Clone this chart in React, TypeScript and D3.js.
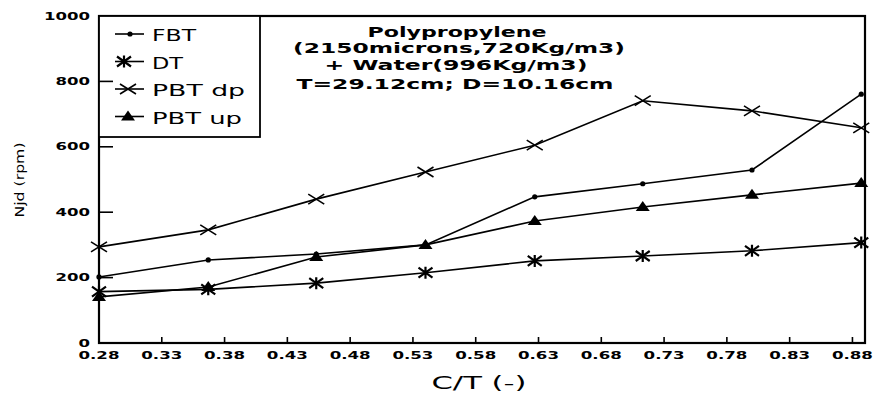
import React from "react";
import * as d3 from "d3";

const CT = [0.28, 0.367, 0.453, 0.54, 0.627, 0.713, 0.8, 0.887];
const FBT = [202, 254, 272, 300, 447, 487, 529, 761];
const DT = [157, 164, 183, 215, 251, 266, 282, 307];
const PBTdp = [294, 346, 440, 523, 605, 741, 710, 658];
const PBTup = [141, 171, 263, 300, 373, 416, 453, 489];
const xTicks = [0.28, 0.33, 0.38, 0.43, 0.48, 0.53, 0.58, 0.63, 0.68, 0.73, 0.78, 0.83, 0.88];
const yTicks = [0, 200, 400, 600, 800, 1000];
const legendNames = ["FBT", "DT", "PBT dp", "PBT up"];
const titleLines = ["Polypropylene", "(2150microns,720Kg/m3)", "+ Water(996Kg/m3)", "T=29.12cm;  D=10.16cm"];

const W = 874, H = 394;
const L = 99, R = 865, T = 16, B = 343;
const x = d3.scaleLinear().domain([0.28, 0.89]).range([L, R]);
const y = d3.scaleLinear().domain([0, 1000]).range([B, T]);
const line = d3.line<number>().x((_, i) => x(CT[i])).y((d) => y(d));

const FONT = "'DejaVu Sans', sans-serif";

type Kind = "dot" | "ast" | "cross" | "tri";

function Marker({ kind, cx, cy }: { kind: Kind; cx: number; cy: number }) {
  if (kind === "dot") return <circle cx={cx} cy={cy} r={2.6} fill="#000" />;
  if (kind === "ast")
    return (
      <path
        d={`M${cx - 7},${cy - 5}L${cx + 7},${cy + 5}M${cx - 7},${cy + 5}L${cx + 7},${cy - 5}M${cx},${cy - 6}L${cx},${cy + 6}`}
        stroke="#000"
        strokeWidth={2.2}
        fill="none"
      />
    );
  if (kind === "cross")
    return (
      <path
        d={`M${cx - 8},${cy - 5}L${cx + 8},${cy + 5}M${cx - 8},${cy + 5}L${cx + 8},${cy - 5}`}
        stroke="#000"
        strokeWidth={1.6}
        fill="none"
      />
    );
  return <path d={`M${cx - 7},${cy + 4}L${cx},${cy - 6}L${cx + 7},${cy + 4}Z`} fill="#000" />;
}

const series: { name: string; vals: number[]; kind: Kind }[] = [
  { name: legendNames[0], vals: FBT, kind: "dot" },
  { name: legendNames[1], vals: DT, kind: "ast" },
  { name: legendNames[2], vals: PBTdp, kind: "cross" },
  { name: legendNames[3], vals: PBTup, kind: "tri" },
];

const legendTextLen = [44, 31, 93, 90];
const titleCenters = [457, 459, 456, 455];
const titleBase = [37, 53, 70, 89];
const titleLen = [179, 332, 263, 317];

export default function App() {
  return (
    <svg
      width={W}
      height={H}
      style={{ position: "fixed", left: 0, top: 0, background: "#fff" }}
      fontFamily={FONT}
    >
      <rect x={0} y={0} width={W} height={H} fill="#fff" />
      {/* series lines */}
      {series.map((s) => (
        <path key={s.name} d={line(s.vals) || ""} fill="none" stroke="#000" strokeWidth={1.6} />
      ))}
      {series.map((s) =>
        s.vals.map((v, i) => <Marker key={s.name + i} kind={s.kind} cx={x(CT[i])} cy={y(v)} />)
      )}
      {/* frame */}
      <rect x={L} y={T} width={R - L} height={B - T} fill="none" stroke="#000" strokeWidth={2.2} />
      {/* y ticks */}
      {yTicks.map((t) => (
        <g key={"y" + t}>
          {t > 0 && t < 1000 && <line x1={L} x2={L + 14} y1={y(t)} y2={y(t)} stroke="#000" strokeWidth={1.6} />}
          <text
            x={90}
            y={y(t) + 3.5}
            textAnchor="end"
            fontSize={10}
            fontWeight="bold"
            textLength={String(t).length * 11.5}
            lengthAdjust="spacingAndGlyphs"
          >
            {t}
          </text>
        </g>
      ))}
      {/* x ticks */}
      {xTicks.map((t) => (
        <g key={"x" + t}>
          {t > 0.28 && <line x1={x(t)} x2={x(t)} y1={B} y2={B - 6} stroke="#000" strokeWidth={1.6} />}
          <text
            x={x(t)}
            y={359}
            textAnchor="middle"
            fontSize={10}
            fontWeight="bold"
            textLength={41}
            lengthAdjust="spacingAndGlyphs"
          >
            {t.toFixed(2)}
          </text>
        </g>
      ))}
      {/* axis titles */}
      <text x={479} y={389} textAnchor="middle" fontSize={17} textLength={95} lengthAdjust="spacingAndGlyphs">
        C/T (-)
      </text>
      <text
        transform="translate(24,180) rotate(-90)"
        textAnchor="middle"
        fontSize={13}
        textLength={75}
        lengthAdjust="spacingAndGlyphs"
      >
        Njd  (rpm)
      </text>
      {/* title */}
      {titleLines.map((s, i) => (
        <text
          key={s}
          x={titleCenters[i]}
          y={titleBase[i]}
          textAnchor="middle"
          fontSize={14}
          fontWeight="bold"
          textLength={titleLen[i]}
          lengthAdjust="spacingAndGlyphs"
        >
          {s}
        </text>
      ))}
      {/* legend */}
      <rect x={L} y={T} width={161} height={121} fill="#fff" stroke="#000" strokeWidth={1.8} />
      <line x1={L} x2={L + 14} y1={y(800)} y2={y(800)} stroke="#000" strokeWidth={1.6} />
      {series.map((s, i) => {
        const cy = 34 + i * 27.5;
        const mx = s.kind === "dot" ? 130 : s.kind === "ast" ? 124 : 128;
        return (
          <g key={"lg" + s.name}>
            <line x1={115} x2={144} y1={cy} y2={cy} stroke="#000" strokeWidth={1.6} />
            <Marker kind={s.kind} cx={mx} cy={cy} />
            <text
              x={152}
              y={cy + 7}
              fontSize={15}
              textLength={legendTextLen[i]}
              lengthAdjust="spacingAndGlyphs"
            >
              {s.name}
            </text>
          </g>
        );
      })}
    </svg>
  );
}
